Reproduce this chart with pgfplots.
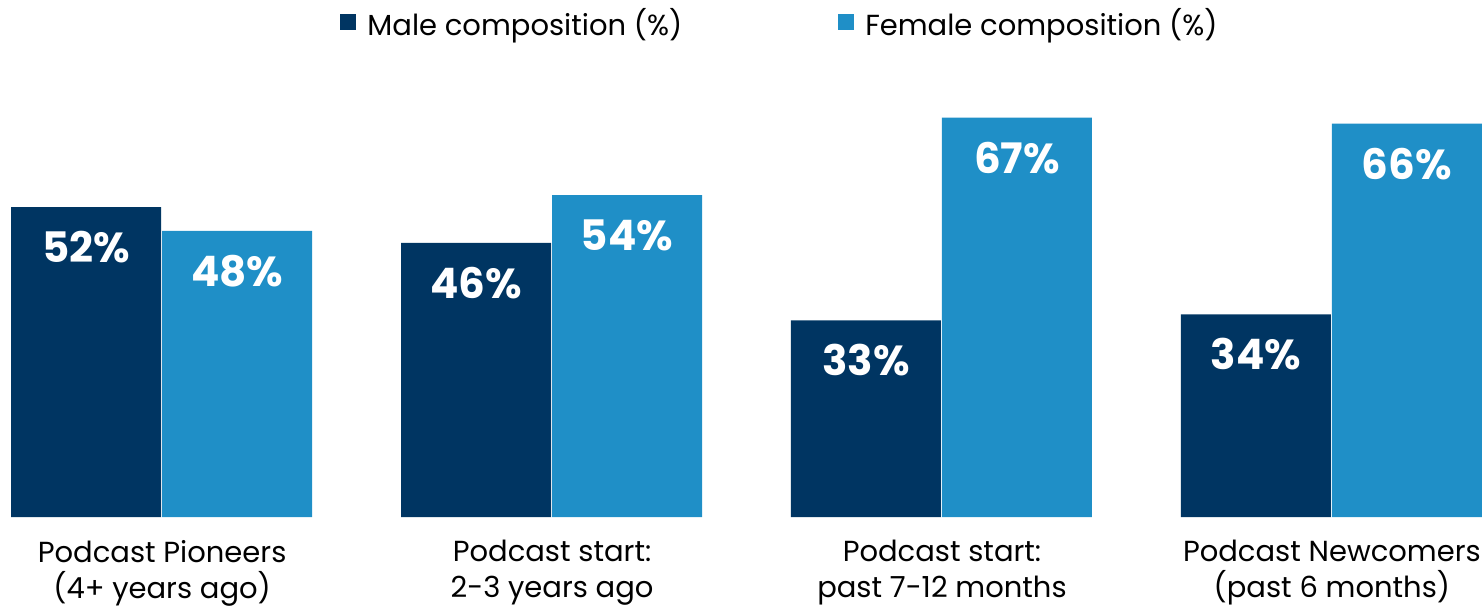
\documentclass[border=0pt]{standalone}
\usepackage{pgfplots}
\pgfplotsset{compat=1.18}
\usepackage{fontspec}
\setmainfont{Poppins}
\definecolor{male}{HTML}{003562}
\definecolor{female}{HTML}{1F8FC7}
\begin{document}
\begin{tikzpicture}
\useasboundingbox (0,-44.5pt) rectangle (741pt,258.5pt);
\begin{axis}[
  at={(0,0)}, anchor=south west,
  scale only axis, width=741pt, height=258.5pt,
  xmin=-0.4158, xmax=3.385, ymin=0, ymax=86.74,
  ybar, bar width=75pt,
  axis line style={draw=none},
  hide y axis,
  xtick={0,1,2,3},
  major tick length=0pt,
  xticklabels={{Podcast Pioneers\\(4+ years ago)},{Podcast start:\\2-3 years ago},{Podcast start:\\past 7-12 months},{Podcast Newcomers\\(past 6 months)}},
  xticklabel style={align=center, font=\fontsize{14.5}{18}\selectfont, inner sep=0pt, yshift=-11.5pt},
  /pgf/number format/assume math mode=true,
  nodes near coords={\pgfmathprintnumber{\pgfplotspointmeta}\%},
  nodes near coords style={font=\bfseries\fontsize{21}{21}\selectfont, text=white, anchor=center, yshift=-20pt},
  legend columns=2,
  legend style={at={(axis description cs:0.5,1)}, anchor=north, xshift=20pt, yshift=0pt, draw=none, fill=none,
    font=\fontsize{14.5}{17.5}\selectfont,
    /tikz/every odd column/.append style={column sep=3.5pt},
    /tikz/every even column/.append style={column sep=76pt}},
  legend image code/.code={\fill[#1] (0pt,-3.5pt) rectangle (8pt,4.5pt);},
]
\addplot[fill=male, draw=none, bar shift=-38pt] coordinates {(0,52) (1,46) (2,33) (3,34)};
\addplot[fill=female, draw=none, bar shift=37.5pt] coordinates {(0,48) (1,54) (2,67) (3,66)};
\legend{Male composition (\%), Female composition (\%)}
\end{axis}
\end{tikzpicture}
\end{document}
